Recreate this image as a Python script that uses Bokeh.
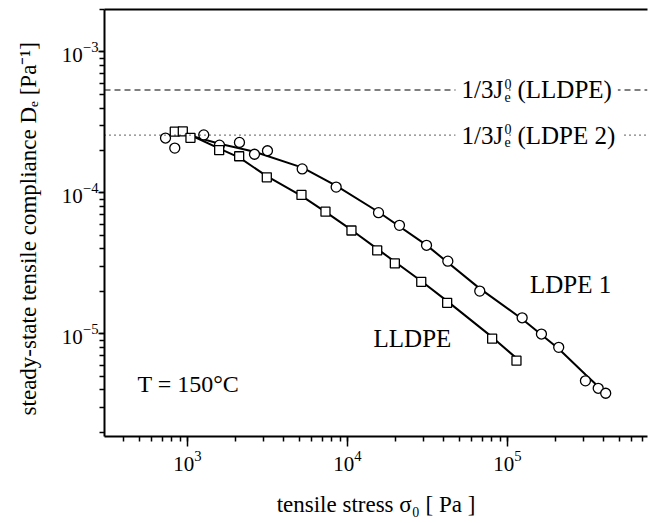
from bokeh.plotting import figure
from bokeh.models import Span, Label, LogAxis, Range1d, FixedTicker
from bokeh.embed import file_html
from bokeh.resources import INLINE

# ---- data ----
ldpe1_stress = [729, 833, 1264, 1585, 2113, 2623, 3162, 5212, 8497, 15630, 21130,
                31190, 42380, 67100, 123500, 163000, 209000, 307000, 369000, 411000]
ldpe1_compliance = [2.45e-4, 2.08e-4, 2.58e-4, 2.18e-4, 2.28e-4, 1.88e-4, 1.99e-4,
                    1.48e-4, 1.10e-4, 7.24e-5, 5.89e-5, 4.25e-5, 3.28e-5, 2.01e-5,
                    1.30e-5, 9.97e-6, 8.02e-6, 4.64e-6, 4.11e-6, 3.79e-6]

lldpe_stress = [833, 935, 1044, 1578, 2104, 3132, 5158, 7286, 10590, 15340, 19770,
                28910, 41980, 80190, 113800]
lldpe_compliance = [2.72e-4, 2.73e-4, 2.46e-4, 2.01e-4, 1.82e-4, 1.29e-4, 9.68e-5,
                    7.36e-5, 5.41e-5, 3.91e-5, 3.16e-5, 2.34e-5, 1.66e-5, 9.24e-6, 6.45e-6]

# fitted curves
ldpe1_fit_stress = [1044, 1585, 2623, 5232, 8530, 15630, 31190, 66600, 124000, 208000, 307000, 411000]
ldpe1_fit_compliance = [2.55e-4, 2.23e-4, 1.96e-4, 1.51e-4, 1.12e-4, 7.32e-5, 4.26e-5,
                        2.11e-5, 1.27e-5, 7.88e-6, 5.15e-6, 3.77e-6]
lldpe_fit_stress = [972, 1585, 2113, 3112, 5158, 7286, 10590, 15430, 29000, 42170, 80600, 114000]
lldpe_fit_compliance = [2.67e-4, 2.06e-4, 1.78e-4, 1.32e-4, 9.52e-5, 7.33e-5, 5.46e-5,
                        3.99e-5, 2.36e-5, 1.70e-5, 9.44e-6, 6.70e-6]

# reference levels 1/3Je0
ref_lldpe = 5.37e-4
ref_ldpe2 = 2.57e-4

x_lo, x_hi = 303, 7.5e5
y_lo, y_hi = 1.87e-6, 2.0e-3

FONT = "Liberation Serif"

p = figure(width=650, height=523, x_axis_type="log", y_axis_type="log",
           x_range=Range1d(x_lo, x_hi), y_range=Range1d(y_lo, y_hi),
           output_backend="svg", toolbar_location=None,
           min_border_left=104, min_border_right=3, min_border_top=9, min_border_bottom=87)
p.grid.visible = False
p.outline_line_color = None

xa = p.below[0]
ya = p.left[0]
for ax in (xa, ya):
    ax.axis_line_width = 2
    ax.major_tick_line_width = 1.5
    ax.minor_tick_line_width = 1.5
    ax.major_tick_in = 0
    ax.minor_tick_in = 0
    ax.major_label_text_font = FONT
    ax.major_label_text_font_size = "21px"
    ax.major_label_text_color = "black"
    ax.axis_label_text_font = FONT
    ax.axis_label_text_font_size = "23px"
    ax.axis_label_text_font_style = "normal"
    ax.axis_label_text_color = "black"
xa.major_tick_out = 10
xa.minor_tick_out = 5
xa.major_label_standoff = 4
xa.axis_label_standoff = 18
ya.major_tick_out = 6
ya.minor_tick_out = 5
ya.major_label_standoff = 0
ya.axis_label_standoff = 18
xa.axis_label = "tensile stress σ₀ [ Pa ]"
ya.axis_label = "steady-state tensile compliance  Dₑ  [Pa⁻¹]"

# top border line (an axis without ticks or labels)
top = LogAxis(ticker=FixedTicker(ticks=[]), major_tick_line_color=None,
              minor_tick_line_color=None, major_label_standoff=0,
              major_tick_out=0, minor_tick_out=0, axis_line_width=2)
p.add_layout(top, "above")

# reference lines
p.add_layout(Span(location=ref_lldpe, dimension="width", line_color="black",
                  line_width=1.2, line_dash="6 4"))
p.add_layout(Span(location=ref_ldpe2, dimension="width", line_color="black",
                  line_width=1.2, line_dash="1 4"))

# labels for reference lines
lab_x = 47300
for yv, name in ((ref_lldpe, "(LLDPE)"), (ref_ldpe2, "(LDPE 2)")):
    p.add_layout(Label(x=lab_x, y=yv, text="1/3J", text_font=FONT, text_font_size="25px",
                       text_color="black", text_baseline="middle", text_align="left",
                       background_fill_color="white", padding=6))
    p.add_layout(Label(x=lab_x, y=yv, text=name, text_font=FONT, text_font_size="25px",
                       text_color="black", text_baseline="middle", text_align="left",
                       background_fill_color="white", padding=6, x_offset=56))
    p.add_layout(Label(x=lab_x, y=yv, text="0", text_font=FONT, text_font_size="14px",
                       text_color="black", text_baseline="middle", text_align="left",
                       x_offset=49, y_offset=6))
    p.add_layout(Label(x=lab_x, y=yv, text="e", text_font=FONT, text_font_size="14px",
                       text_color="black", text_baseline="middle", text_align="left",
                       x_offset=49, y_offset=-7))

# fitted lines
p.line(ldpe1_fit_stress, ldpe1_fit_compliance, line_color="black", line_width=2)
p.line(lldpe_fit_stress, lldpe_fit_compliance, line_color="black", line_width=2)

# data points
p.scatter(ldpe1_stress, ldpe1_compliance, marker="circle", size=10,
          fill_color="white", line_color="black", line_width=1.3)
p.scatter(lldpe_stress, lldpe_compliance, marker="square", size=9,
          fill_color="white", line_color="black", line_width=1.3)

# text annotations
p.add_layout(Label(x=248000, y=2.25e-5, text="LDPE 1", text_font=FONT, text_font_size="25px",
                   text_color="black", text_baseline="middle", text_align="center"))
p.add_layout(Label(x=25470, y=9.29e-6, text="LLDPE", text_font=FONT, text_font_size="25px",
                   text_color="black", text_baseline="middle", text_align="center"))
p.add_layout(Label(x=487, y=4.38e-6, text="T = 150°C", text_font=FONT, text_font_size="24px",
                   text_color="black", text_baseline="middle", text_align="left"))

open("out.html", "w").write(file_html(p, INLINE))
